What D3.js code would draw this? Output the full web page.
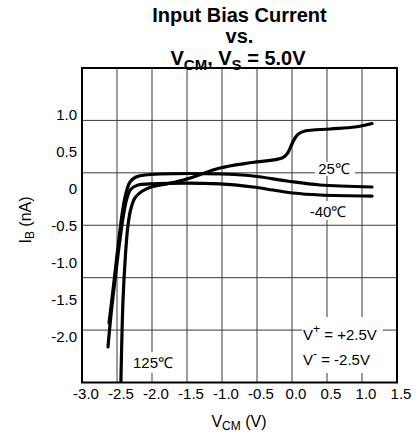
<!DOCTYPE html>
<html>
<head>
<meta charset="utf-8">
<script src="https://cdn.jsdelivr.net/npm/d3@7"></script>
<style>
    body { margin: 0; background: #fff; }
    text { font-family: "Liberation Sans", Arial, sans-serif; fill: #000; }
    .grid line { stroke: #3a3a3a; stroke-width: 1; }
    .curve { fill: none; stroke: #000; stroke-width: 3.2; stroke-linecap: round; stroke-linejoin: round; }
</style>
</head>
<body>
<div id="chart"></div>
<script>
// values (VCM in V, IB in nA)
const vcm125 = [-2.447, -2.414, -2.379, -2.343, -2.30, -2.243, -2.143, -2.0, -1.786, -1.5, -1.029, -0.571, -0.143, -0.071, -0.014, 0.043, 0.1, 0.186, 0.543, 0.9, 1.143];
const ib125 = [-2.74, -1.50, -0.89, -0.49, -0.26, -0.12, -0.03, 0.03, 0.07, 0.135, 0.284, 0.358, 0.419, 0.473, 0.581, 0.689, 0.75, 0.784, 0.811, 0.838, 0.885];

const vcm25 = [-2.614, -2.557, -2.5, -2.457, -2.414, -2.371, -2.314, -2.229, -2.1, -1.886, -1.029, -0.557, -0.071, 0.4, 1.143];
const ib25 = [-1.811, -1.365, -0.892, -0.554, -0.257, -0.054, 0.095, 0.162, 0.189, 0.203, 0.203, 0.176, 0.108, 0.054, 0.027];

const vcmM40 = [-2.629, -2.586, -2.529, -2.486, -2.443, -2.4, -2.357, -2.3, -2.2, -2.029, -1.029, -0.557, -0.271, 0.014, 0.4, 1.143];
const ibM40 = [-2.135, -1.703, -1.23, -0.892, -0.581, -0.311, -0.122, 0.0, 0.054, 0.068, 0.068, 0.027, -0.014, -0.054, -0.081, -0.095];

const xTicks = [-3.0, -2.5, -2.0, -1.5, -1.0, -0.5, 0.0, 0.5, 1.0, 1.5];
const yTicks = [1.0, 0.5, 0, -0.5, -1.0, -1.5, -2.0];

class BiasChart {
    constructor(parentElement) {
        this.parentElement = parentElement;
        this.initVis();
    }

    initVis() {
        let vis = this;

        vis.width = 417;
        vis.height = 434;
        vis.box = { left: 82, right: 397, top: 68, bottom: 382.5 };

        vis.svg = d3.select("#" + vis.parentElement)
            .append("svg")
            .attr("width", vis.width)
            .attr("height", vis.height);

        vis.svg.append("rect")
            .attr("width", vis.width)
            .attr("height", vis.height)
            .attr("fill", "#fff");

        vis.x = d3.scaleLinear().domain([-3, 1.5]).range([vis.box.left, vis.box.right]);
        // tick labels sit a little off the horizontal grid in the original
        vis.y = d3.scaleLinear().domain([-2, 1]).range([337, 115]);

        vis.svg.append("clipPath").attr("id", "plot-clip")
            .append("rect")
            .attr("x", vis.box.left)
            .attr("y", vis.box.top)
            .attr("width", vis.box.right - vis.box.left)
            .attr("height", vis.box.bottom - vis.box.top);

        vis.drawGrid();
        vis.drawCurves();
        vis.drawLabels();
    }

    drawGrid() {
        let vis = this;
        let b = vis.box;
        let grid = vis.svg.append("g").attr("class", "grid");

        grid.selectAll("line.v")
            .data(xTicks.slice(1, -1))
            .enter()
            .append("line")
            .attr("class", "v")
            .attr("x1", d => vis.x(d))
            .attr("x2", d => vis.x(d))
            .attr("y1", b.top)
            .attr("y2", b.bottom);

        let rows = d3.range(1, 6).map(i => b.top + i * (b.bottom - b.top) / 6);
        grid.selectAll("line.h")
            .data(rows)
            .enter()
            .append("line")
            .attr("class", "h")
            .attr("x1", b.left)
            .attr("x2", b.right)
            .attr("y1", d => d)
            .attr("y2", d => d);

        vis.svg.append("rect")
            .attr("x", b.left)
            .attr("y", b.top)
            .attr("width", b.right - b.left)
            .attr("height", b.bottom - b.top)
            .attr("fill", "none")
            .attr("stroke", "#000")
            .attr("stroke-width", 2);

        vis.svg.selectAll("text.xtick")
            .data(xTicks)
            .enter()
            .append("text")
            .attr("class", "xtick")
            .attr("x", d => vis.x(d) + 4)
            .attr("y", 399)
            .attr("text-anchor", "middle")
            .style("font-size", "15px")
            .text(d => d.toFixed(1));

        vis.svg.selectAll("text.ytick")
            .data(yTicks)
            .enter()
            .append("text")
            .attr("class", "ytick")
            .attr("x", 77)
            .attr("y", d => vis.y(d))
            .attr("dy", "0.36em")
            .attr("text-anchor", "end")
            .style("font-size", "15px")
            .text(d => d === 0 ? "0" : d.toFixed(1));
    }

    drawCurves() {
        let vis = this;

        let series = [
            { name: "125", vcm: vcm125, ib: ib125 },
            { name: "25", vcm: vcm25, ib: ib25 },
            { name: "-40", vcm: vcmM40, ib: ibM40 }
        ];

        let line = d3.line()
            .x(d => vis.x(d[0]))
            .y(d => vis.y(d[1]))
            .curve(d3.curveCatmullRom.alpha(0.5));

        vis.svg.append("g")
            .attr("clip-path", "url(#plot-clip)")
            .selectAll("path.curve")
            .data(series)
            .enter()
            .append("path")
            .attr("class", "curve")
            .attr("d", s => line(s.vcm.map((v, i) => [v, s.ib[i]])));
    }

    drawLabels() {
        let vis = this;

        // white patches under the in-plot labels, as in the original
        let patches = [[315, 162, 40, 14], [307, 201, 42, 19], [131, 352, 44, 21], [302, 317, 81, 56]];
        vis.svg.selectAll("rect.patch")
            .data(patches)
            .enter()
            .append("rect")
            .attr("class", "patch")
            .attr("x", d => d[0])
            .attr("y", d => d[1])
            .attr("width", d => d[2])
            .attr("height", d => d[3])
            .attr("fill", "#fff");

        let temps = [["25℃", 334, 174], ["-40℃", 328, 216.5], ["125℃", 153, 368]];
        vis.svg.selectAll("text.temp")
            .data(temps)
            .enter()
            .append("text")
            .attr("class", "temp")
            .attr("x", d => d[1])
            .attr("y", d => d[2])
            .attr("text-anchor", "middle")
            .style("font-size", "15px")
            .text(d => d[0]);

        let vp = vis.svg.append("text").attr("x", 303).attr("y", 340).style("font-size", "15px");
        vp.append("tspan").text("V");
        vp.append("tspan").attr("dy", -7).style("font-size", "12px").text("+");
        vp.append("tspan").attr("dy", 7).text(" = +2.5V");

        let vm = vis.svg.append("text").attr("x", 303).attr("y", 365).style("font-size", "15px");
        vm.append("tspan").text("V");
        vm.append("tspan").attr("dy", -7).style("font-size", "12px").text("-");
        vm.append("tspan").attr("dy", 7).text(" = -2.5V");

        // title
        let title = vis.svg.append("g")
            .style("font-size", "20px")
            .style("font-weight", "bold");
        title.append("text").attr("x", 239.5).attr("y", 21.5).attr("text-anchor", "middle").text("Input Bias Current");
        title.append("text").attr("x", 239.5).attr("y", 43).attr("text-anchor", "middle").text("vs.");
        let t3 = title.append("text").attr("x", 238).attr("y", 64.5).attr("text-anchor", "middle");
        t3.append("tspan").text("V");
        t3.append("tspan").attr("dy", 5).style("font-size", "15px").text("CM");
        t3.append("tspan").attr("dy", -5).text(", V");
        t3.append("tspan").attr("dy", 5).style("font-size", "15px").text("S");
        t3.append("tspan").attr("dy", -5).text(" = 5.0V");

        // axis titles
        let xl = vis.svg.append("text")
            .attr("x", 239)
            .attr("y", 426.5)
            .attr("text-anchor", "middle")
            .style("font-size", "16px");
        xl.append("tspan").text("V");
        xl.append("tspan").attr("dy", 3).style("font-size", "12px").text("CM");
        xl.append("tspan").attr("dy", -3).text(" (V)");

        let yl = vis.svg.append("text")
            .attr("transform", "translate(31,220) rotate(-90)")
            .attr("text-anchor", "middle")
            .style("font-size", "16px");
        yl.append("tspan").text("I");
        yl.append("tspan").attr("dy", 3).style("font-size", "12px").text("B");
        yl.append("tspan").attr("dy", -3).text(" (nA)");
    }
}

new BiasChart("chart");
</script>
</body>
</html>
